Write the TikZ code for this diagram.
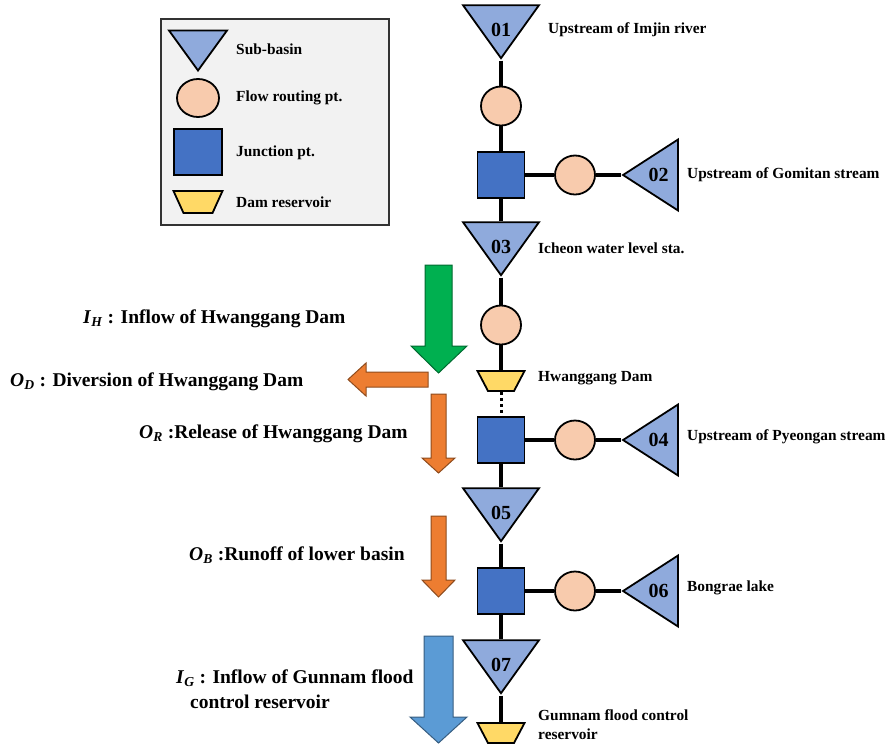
\documentclass[tikz,border=0pt]{standalone}
\usepackage{fontspec}
\setmainfont{Liberation Serif}
\usetikzlibrary{shapes.geometric}

\definecolor{basinblue}{HTML}{8FAADC}
\definecolor{routepeach}{HTML}{F8CBAD}
\definecolor{junctionblue}{HTML}{4472C4}
\definecolor{damyellow}{HTML}{FFD966}
\definecolor{inflowgreen}{HTML}{00B050}
\definecolor{outorange}{HTML}{ED7D31}
\definecolor{gunnamblue}{HTML}{5B9BD5}
\definecolor{legendgray}{HTML}{F2F2F2}

\newcommand{\flowsym}[2]{\textit{#1}\textsubscript{\textit{#2}}}

\begin{document}
\begin{tikzpicture}[x=1pt,y=-1pt,
  subbasin/.style={isosceles triangle,isosceles triangle stretches,shape border rotate=270,draw,line width=1.8pt,fill=basinblue,minimum width=76pt,minimum height=53pt,inner sep=0pt},
  sidebasin/.style={subbasin,shape border rotate=180,minimum width=71pt,minimum height=55pt},
  numtext/.style={font=\bfseries\fontsize{20}{20}\selectfont,inner sep=0pt},
  routing/.style={ellipse,draw,line width=1.8pt,fill=routepeach,minimum width=40pt,minimum height=39pt,inner sep=0pt},
  junction/.style={rectangle,draw,line width=1.8pt,fill=junctionblue,minimum width=47pt,minimum height=46pt,inner sep=0pt},
  reservoir/.style={trapezium,trapezium stretches,shape border rotate=180,trapezium left angle=68,trapezium right angle=68,draw,line width=1.8pt,fill=damyellow,minimum width=47pt,minimum height=20pt,inner sep=1pt},
  link/.style={line width=3.5pt},
  small/.style={font=\bfseries\fontsize{15.4}{19}\selectfont,anchor=west,inner sep=0pt,align=left},
  big/.style={font=\bfseries\fontsize{19.5}{25}\selectfont,anchor=west,inner sep=0pt,align=left},
  blockarrow/.style={line width=1pt,line join=miter}
]
\useasboundingbox (0,0) rectangle (891,745);

% legend
\node[draw=black!80,line width=1.2pt,fill=legendgray,minimum width=228pt,minimum height=206pt] (legend) at (275,122) {};
\node[subbasin,minimum width=58pt,minimum height=40pt] (legtri) at (198,45.3) {};
\node[routing,minimum width=42pt,minimum height=38pt] (legroute) at (198,98) {};
\node[junction,minimum width=48pt,minimum height=46pt] (legjunc) at (198,152) {};
\node[reservoir,minimum width=49pt,minimum height=22pt,trapezium left angle=71,trapezium right angle=71] (legdam) at (198,202) {};
\node[small] (legtritext) at (236,49) {Sub-basin};
\node[small] (legroutetext) at (236,98) {Flow routing pt.};
\node[small] (legjunctext) at (236,153) {Junction pt.};
\node[small] (legdamtext) at (236,202) {Dam reservoir};

% main stream
\node[subbasin,label={[numtext,yshift=-5.5pt]center:01}] (s01) at (501,24.7) {};
\node[routing] (r1) at (501,106) {};
\node[junction] (j1) at (501,175) {};
\node[routing] (r2) at (575,175) {};
\node[sidebasin,label={[numtext]center:02}] (s02) at (658.7,175) {};
\node[subbasin,label={[numtext,yshift=-5.5pt]center:03}] (s03) at (501,241.7) {};
\node[routing] (r3) at (501,325) {};
\node[reservoir] (dam1) at (501,381) {};
\node[junction] (j2) at (501,440) {};
\node[routing] (r4) at (575,440) {};
\node[sidebasin,label={[numtext]center:04}] (s04) at (658.7,440) {};
\node[subbasin,label={[numtext,yshift=-5.5pt]center:05}] (s05) at (501,507.7) {};
\node[junction] (j3) at (501,591) {};
\node[routing] (r5) at (575,591) {};
\node[sidebasin,label={[numtext]center:06}] (s06) at (658.7,591) {};
\node[subbasin,label={[numtext,yshift=-5.5pt]center:07}] (s07) at (501,659.7) {};
\node[reservoir] (dam2) at (501,733) {};

\draw[link] (s01) -- (r1) -- (j1) -- (s03) -- (r3) -- (dam1);
\draw[line width=3pt,dash pattern=on 3pt off 3pt] (dam1) -- (j2);
\draw[link] (j2) -- (s05) -- (j3) -- (s07) -- (dam2);
\draw[link] (j1) -- (r2) -- (s02);
\draw[link] (j2) -- (r4) -- (s04);
\draw[link] (j3) -- (r5) -- (s06);

% station names
\node[small] (t01) at (548,30) {Upstream of Imjin river};
\node[small] (t02) at (687,175) {Upstream of Gomitan stream};
\node[small] (t03) at (538,248) {Icheon water level sta.};
\node[small] (tdam1) at (538,378) {Hwanggang Dam};
\node[small] (t04) at (687,437) {Upstream of Pyeongan stream};
\node[small] (t06) at (687,588) {Bongrae lake};
\node[small] (tdam2) at (538,724.5) {Gumnam flood control\\reservoir};

% flow arrows
\filldraw[blockarrow,fill=inflowgreen,draw=inflowgreen!60!black] (425,265) -- (452,265) -- (452,346) -- (467,346) -- (438.5,373) -- (411,346) -- (425,346) -- cycle;
\filldraw[blockarrow,fill=outorange,draw=outorange!60!black] (428,372) -- (428,387) -- (366,387) -- (366,396) -- (348,379.5) -- (366,363) -- (366,372) -- cycle;
\filldraw[blockarrow,fill=outorange,draw=outorange!60!black] (431,394) -- (446,394) -- (446,458) -- (455,458) -- (438.5,473) -- (422,458) -- (431,458) -- cycle;
\filldraw[blockarrow,fill=outorange,draw=outorange!60!black] (431,516) -- (446,516) -- (446,580) -- (455,580) -- (438.5,597) -- (422,580) -- (431,580) -- cycle;
\filldraw[blockarrow,fill=gunnamblue,draw=gunnamblue!60!black] (424,636) -- (453,636) -- (453,717) -- (467,717) -- (438.5,743) -- (410,717) -- (424,717) -- cycle;

% flow labels
\node[big] (lih) at (83,319) {\flowsym{I}{H} : Inflow of Hwanggang Dam};
\node[big] (lod) at (10,382) {\flowsym{O}{D} : Diversion of Hwanggang Dam};
\node[big] (lor) at (139,434) {\flowsym{O}{R} :Release of Hwanggang Dam};
\node[big] (lob) at (189,555) {\flowsym{O}{B} :Runoff of lower basin};
\node[big] (lig) at (176,689.5) {\flowsym{I}{G} : Inflow of Gunnam flood\\\hspace*{14pt}control reservoir};
\end{tikzpicture}
\end{document}
